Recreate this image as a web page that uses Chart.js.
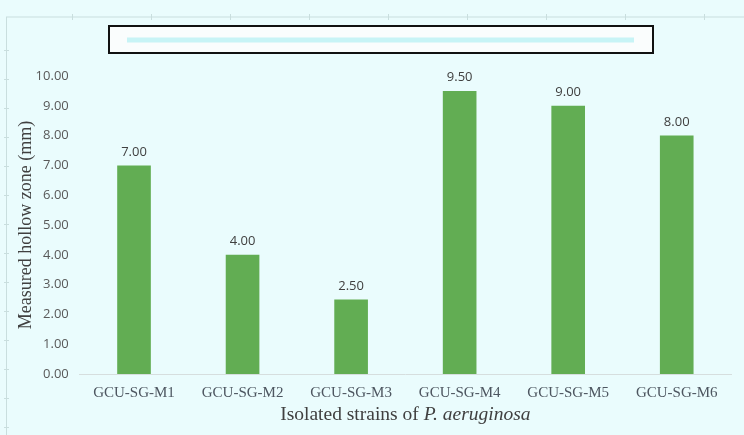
<!DOCTYPE html>
<html>
<head>
<meta charset="utf-8">
<script src="https://cdn.jsdelivr.net/npm/chart.js@4"></script>
<style>
  html, body { margin: 0; padding: 0; background: #eafcfd; }
  #wrap { width: 744px; height: 435px; position: relative; }
</style>
</head>
<body>
<div id="wrap"><canvas id="myChart"></canvas></div>
<script>
const strains = ['GCU-SG-M1', 'GCU-SG-M2', 'GCU-SG-M3', 'GCU-SG-M4', 'GCU-SG-M5', 'GCU-SG-M6'];
const hollowZone = [7.00, 4.00, 2.50, 9.50, 9.00, 8.00];
const yTicks = [0, 1, 2, 3, 4, 5, 6, 7, 8, 9, 10];

const barGreen = '#62ad53';
const textGrey = '#595959';

// background + faint paper edge with little tick marks
const paperPlugin = {
    id: 'paper',
    beforeDraw(chart) {
        const c = chart.ctx;
        c.save();
        c.fillStyle = '#eafcfd';
        c.fillRect(0, 0, chart.width, chart.height);
        c.strokeStyle = '#c9dede';
        c.lineWidth = 1;
        c.beginPath();
        c.moveTo(6, 17); c.lineTo(chart.width, 17);
        c.moveTo(6.5, 17); c.lineTo(6.5, chart.height);
        for (let x = 72; x < chart.width; x += 79) { c.moveTo(x + 0.5, 14); c.lineTo(x + 0.5, 20); }
        for (let y = 50; y < chart.height; y += 29) { c.moveTo(4, y + 0.5); c.lineTo(9, y + 0.5); }
        c.stroke();
        c.restore();
    }
};

// boxed legend with the cyan line, value labels, mixed-style x title
const extrasPlugin = {
    id: 'extras',
    afterDraw(chart) {
        const c = chart.ctx;
        c.save();
        // legend box
        c.fillStyle = '#fafdfd';
        c.fillRect(109, 26, 544, 27);
        c.strokeStyle = '#111';
        c.lineWidth = 2;
        c.strokeRect(109, 26, 544, 27);
        c.strokeStyle = '#c8f4f6';
        c.lineWidth = 5;
        c.beginPath();
        c.moveTo(127, 40); c.lineTo(634, 40);
        c.stroke();

        // value labels
        const meta = chart.getDatasetMeta(0);
        c.fillStyle = '#404040';
        c.font = '13px "Open Sans"';
        c.textAlign = 'center';
        c.textBaseline = 'bottom';
        meta.data.forEach((bar, i) => {
            c.fillText(hollowZone[i].toFixed(2), bar.x, bar.y - 7);
        });

        // x axis title
        const area = chart.chartArea;
        const cx = (area.left + area.right) / 2;
        const part1 = 'Isolated strains of ';
        const part2 = 'P. aeruginosa';
        const f1 = '19.5px "Liberation Serif"';
        const f2 = 'italic 19.5px "Liberation Serif"';
        c.font = f1; const w1 = c.measureText(part1).width;
        c.font = f2; const w2 = c.measureText(part2).width;
        let x = cx - (w1 + w2) / 2;
        c.textAlign = 'left';
        c.textBaseline = 'middle';
        c.fillStyle = '#404040';
        c.font = f1; c.fillText(part1, x, 415);
        c.font = f2; c.fillText(part2, x + w1, 415);
        c.restore();
    }
};

const ctx = document.getElementById('myChart').getContext('2d');
const myChart = new Chart(ctx, {
    type: 'bar',
    data: {
        labels: strains,
        datasets: [{
            label: 'Measured hollow zone',
            data: hollowZone,
            backgroundColor: barGreen,
            borderWidth: 0,
            categoryPercentage: 1,
            barPercentage: 0.31
        }]
    },
    options: {
        responsive: true,
        maintainAspectRatio: false,
        animation: false,
        layout: { padding: { top: 76, right: 13, bottom: 31, left: 15 } },
        plugins: {
            legend: { display: false },
            tooltip: { enabled: false }
        },
        scales: {
            x: {
                grid: { display: false },
                border: { color: '#d6dede', width: 1 },
                ticks: {
                    color: '#4d5660',
                    font: { family: 'Liberation Serif', size: 15 },
                    padding: 2,
                    maxRotation: 0
                }
            },
            y: {
                min: 0,
                max: 10,
                afterBuildTicks(axis) { axis.ticks = yTicks.map(v => ({ value: v })); },
                grid: { display: false },
                border: { display: false },
                ticks: {
                    color: textGrey,
                    font: { family: 'Open Sans', size: 13 },
                    padding: 3,
                    callback: v => Number(v).toFixed(2)
                },
                title: {
                    display: true,
                    text: 'Measured hollow zone (mm)',
                    color: '#404040',
                    font: { family: 'Liberation Serif', size: 18 },
                    padding: { top: 0, bottom: -4 }
                }
            }
        }
    },
    plugins: [paperPlugin, extrasPlugin]
});
</script>
</body>
</html>
